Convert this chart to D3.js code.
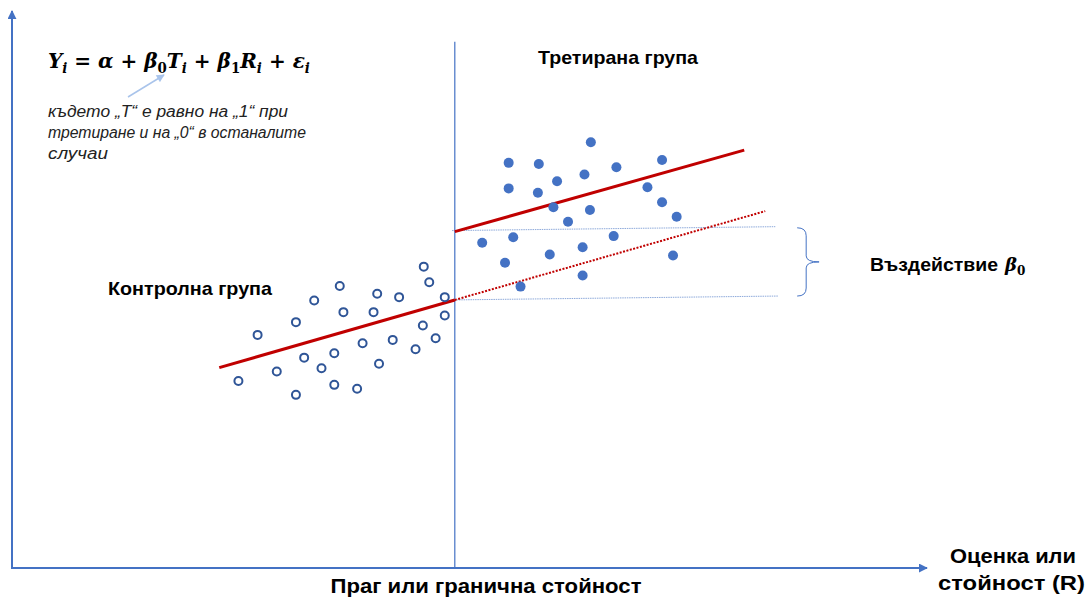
<!DOCTYPE html>
<html><head><meta charset="utf-8">
<script src="https://cdn.jsdelivr.net/npm/d3@7"></script>
<style>html,body{margin:0;padding:0;background:#fff;}svg{display:block;}</style>
</head><body>
<svg id="c" width="1089" height="598"></svg>
<script>
// Control group (R, Y) — hollow markers
const controlR = [24.8,26.9,29.0,31.1,31.1,32.0,33.1,33.9,35.3,35.3,35.9,36.3,37.8,38.4,39.6,40.0,40.2,41.7,42.4,44.2,45.0,45.1,45.7,46.4,47.4,47.4];
const controlY = [33.7,42.0,35.4,44.3,31.2,37.9,48.2,36.0,38.7,33.0,50.8,46.1,32.3,40.5,46.1,49.4,36.8,41.1,48.8,39.4,43.7,54.3,51.5,41.4,48.8,45.5];
// Treated group — filled markers
const treatedR = [63.4,54.4,57.7,71.2,66.2,62.7,59.7,54.4,57.6,69.6,71.2,59.3,63.3,72.8,60.9,51.5,54.9,65.9,62.5,54.0,58.9,72.4,62.5,55.7];
const treatedY = [76.7,73.0,72.8,73.5,72.2,70.9,69.7,68.4,67.6,68.6,65.9,65.0,64.5,63.3,62.4,58.6,59.6,59.8,57.8,55.0,56.5,56.3,52.7,50.7];
const threshold = 48.5;
const controlFitR = [22.7, 48.5], controlFitY = [36.1, 48.3];
const treatedFitR = [48.5, 80.2], treatedFitY = [60.6, 75.3];
const extendedFitR = [48.5, 82.5], extendedFitY = [48.3, 64.3];
const refUpperR = [48.2, 83.6], refUpperY = [60.8, 61.5];
const refLowerR = [48.2, 83.9], refLowerY = [48.3, 49.0];
const braceR = [86.0, 88.4], braceY = [61.3, 49.0];

const svg = d3.select("#c");
const x = d3.scaleLinear().domain([0,100]).range([12,925]);
const y = d3.scaleLinear().domain([0,100]).range([568,13]);
const blue = "#4472c4";

const defs = svg.append("defs");
function mk(id,color,w,h){
  defs.append("marker").attr("id",id).attr("viewBox","0 0 10 10").attr("refX",9).attr("refY",5)
   .attr("markerWidth",w).attr("markerHeight",h).attr("orient","auto").attr("markerUnits","userSpaceOnUse")
   .append("path").attr("d","M0,0 L10,5 L0,10 z").attr("fill",color);
}
mk("ax",blue,9,9); mk("lb","#a9c4eb",9,8);

// axes
svg.append("line").attr("x1",x(0)).attr("y1",y(0)).attr("x2",x(0)).attr("y2",y(100)-2)
  .attr("stroke",blue).attr("stroke-width",2).attr("marker-end","url(#ax)");
svg.append("line").attr("x1",x(0)-1).attr("y1",y(0)).attr("x2",x(100)+2).attr("y2",y(0))
  .attr("stroke",blue).attr("stroke-width",2).attr("marker-end","url(#ax)");
// threshold
svg.append("line").attr("x1",x(threshold)).attr("x2",x(threshold)).attr("y1",y(0)).attr("y2",y(94.8))
  .attr("stroke",blue).attr("stroke-width",1.2);

// reference thin lines
[[refUpperR,refUpperY],[refLowerR,refLowerY]].forEach(([r,v])=>{
  svg.append("line").attr("x1",x(r[0])).attr("y1",y(v[0])).attr("x2",x(r[1])).attr("y2",y(v[1]))
   .attr("stroke","#8eaadb").attr("stroke-width",1).attr("stroke-dasharray","1.5,0.8");
});

// fits
function fit(r,v,dash,w){
  const l = svg.append("line").attr("x1",x(r[0])).attr("y1",y(v[0])).attr("x2",x(r[1])).attr("y2",y(v[1]))
   .attr("stroke","#c00000").attr("stroke-width",w);
  if(dash) l.attr("stroke-dasharray",dash);
}
fit(controlFitR,controlFitY,null,3);
fit(treatedFitR,treatedFitY,null,3);
fit(extendedFitR,extendedFitY,"2,1.5",2);

// points
svg.append("g").selectAll("circle").data(controlR.map((r,i)=>[r,controlY[i]])).join("circle")
  .attr("cx",d=>x(d[0])).attr("cy",d=>y(d[1])).attr("r",4).attr("fill","#fff")
  .attr("stroke","#2f5597").attr("stroke-width",2);
svg.append("g").selectAll("circle").data(treatedR.map((r,i)=>[r,treatedY[i]])).join("circle")
  .attr("cx",d=>x(d[0])).attr("cy",d=>y(d[1])).attr("r",5).attr("fill",blue);

// brace
const bx0 = x(braceR[0]), bx1 = x(braceR[1]), bt = y(braceY[0]), bb = y(braceY[1]);
const bm = (bt+bb)/2, bxm = bx0+9;
svg.append("path").attr("d",`M${bx0},${bt} Q${bxm},${bt} ${bxm},${bt+8} L${bxm},${bm-6} Q${bxm},${bm} ${bx1},${bm} Q${bxm},${bm} ${bxm},${bm+6} L${bxm},${bb-8} Q${bxm},${bb} ${bx0},${bb}`)
  .attr("fill","none").attr("stroke",blue).attr("stroke-width",1);

// texts
const sans = "Arial, 'Liberation Sans', sans-serif";
svg.append("text").attr("x",108).attr("y",295).attr("font-family",sans).attr("font-weight","bold")
  .attr("font-size",19).attr("textLength",164).attr("lengthAdjust","spacingAndGlyphs").attr("fill","#000").text("Контролна група");
svg.append("text").attr("x",538).attr("y",64).attr("font-family",sans).attr("font-weight","bold")
  .attr("font-size",19).attr("textLength",160).attr("lengthAdjust","spacingAndGlyphs").attr("fill","#000").text("Третирана група");
const vt = svg.append("text").attr("x",870).attr("y",271).attr("font-family",sans).attr("font-weight","bold")
  .attr("font-size",19).attr("fill","#000");
vt.append("tspan").attr("textLength",128).attr("lengthAdjust","spacingAndGlyphs").text("Въздействие");
vt.append("tspan").attr("x",1005).attr("font-family","'DejaVu Serif', serif").attr("font-style","italic").attr("font-size",18).text("β");
vt.append("tspan").attr("font-family","'DejaVu Serif', serif").attr("font-size",12).attr("dy",4).text("0");

svg.append("text").attr("x",486).attr("y",593).attr("text-anchor","middle")
  .attr("font-family","'Liberation Sans Narrow', 'Arial Narrow', Arial, sans-serif").attr("font-weight","bold")
  .attr("font-size",20).attr("textLength",311).attr("lengthAdjust","spacingAndGlyphs").text("Праг или гранична стойност");
svg.append("text").attr("x",950).attr("y",563)
  .attr("font-family","'Liberation Sans Narrow', 'Arial Narrow', Arial, sans-serif").attr("font-weight","bold")
  .attr("font-size",20).attr("textLength",126).attr("lengthAdjust","spacingAndGlyphs").text("Оценка или");
svg.append("text").attr("x",938).attr("y",590)
  .attr("font-family","'Liberation Sans Narrow', 'Arial Narrow', Arial, sans-serif").attr("font-weight","bold")
  .attr("font-size",20).attr("textLength",147).attr("lengthAdjust","spacingAndGlyphs").text("стойност (R)");

// annotation
const ann = ["където „T“ е равно на „1“ при","третиране и на „0“ в останалите","случаи"];
const annW = [240, 258, 60];
svg.append("g").selectAll("text").data(ann).join("text")
  .attr("x",48).attr("y",(d,i)=>117+i*21).attr("font-family",sans).attr("font-style","italic")
  .attr("font-size",16).attr("textLength",(d,i)=>annW[i]).attr("lengthAdjust","spacingAndGlyphs")
  .attr("fill","#222").text(d=>d);
svg.append("line").attr("x1",128).attr("y1",97).attr("x2",164).attr("y2",75)
  .attr("stroke","#a9c4eb").attr("stroke-width",1.5).attr("marker-end","url(#lb)");

// formula
const f = svg.append("text").attr("x",48).attr("y",68).attr("font-family","'DejaVu Serif', 'Liberation Serif', serif")
  .attr("font-weight","bold").attr("font-size",21).attr("fill","#000");
const parts = [["Y",0,"i"],[" = ",1],["α",0],[" +  ",1],["β",0,"0"],["T",0,"i"],[" + ",1],["β",0,"1"],["R",0,"i"],[" + ",1],["ε",0,"i"]];
let pend = 0;
parts.forEach(p=>{
  const t = f.append("tspan").attr("font-style",p[1]?"normal":"italic").text(p[0]);
  if(pend){ t.attr("dy",-pend); pend = 0; }
  if(p[2]){
    f.append("tspan").attr("font-style",p[2]==="i"?"italic":"normal").attr("font-size",14).attr("dy",5).text(p[2]);
    pend = 5;
  }
});
const fw = f.node().getComputedTextLength();
f.attr("transform",`translate(48,0) scale(${262/fw},1) translate(-48,0)`);
</script>
</body></html>
